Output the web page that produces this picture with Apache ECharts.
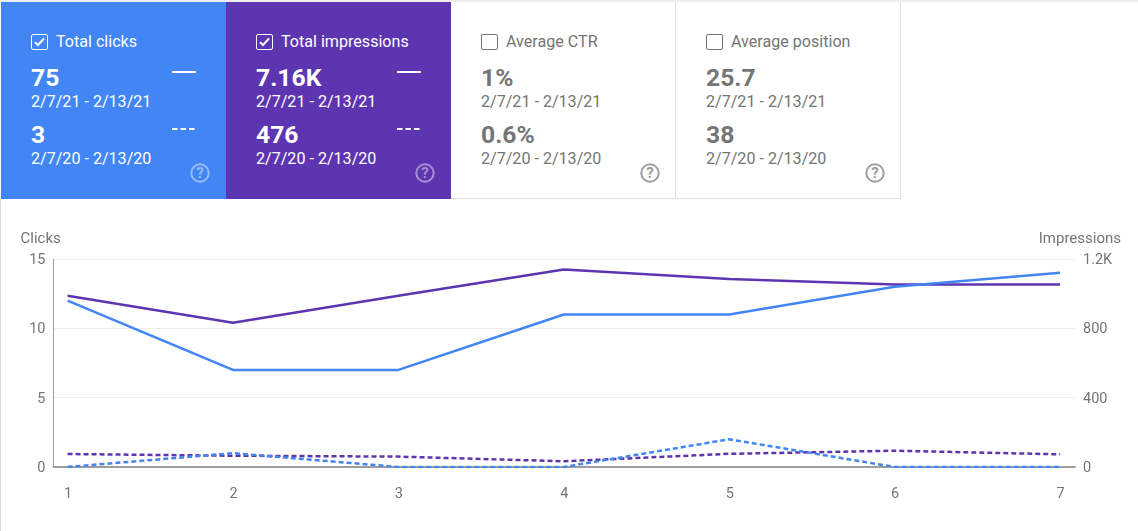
<!DOCTYPE html>
<html><head><meta charset="utf-8">
<script src="https://cdn.jsdelivr.net/npm/echarts@6/dist/echarts.min.js"></script>
<style>
html,body{margin:0;padding:0;background:#fff;width:1138px;height:531px;overflow:hidden;font-family:Roboto,sans-serif}
#topline{position:absolute;left:0;top:0;width:1138px;height:2px;background:#eeeeee}
#leftline{position:absolute;left:0;top:199px;width:1px;height:332px;background:#dadada}
#cards{position:absolute;left:1px;top:2px;height:197px;width:900px}
.card{position:absolute;top:0;width:225px;height:197px;box-sizing:border-box}
.card.off{color:#757575;border-right:1px solid #e0e0e0;border-bottom:1px solid #e0e0e0}
.card.on{color:#fff}
.card div,.card svg{position:absolute}
.t{left:55px;top:30px;font-size:16.1px;line-height:20px;white-space:nowrap}
.box{left:30px;top:32px;width:17px;height:16px;box-sizing:border-box;border-radius:2px;border:1px solid currentColor}
.n{left:30px;font-size:24.7px;font-weight:700;line-height:28px;white-space:nowrap}
.d{left:30px;font-size:16.1px;line-height:20px;white-space:nowrap}
.n1{top:62px}.d1{top:90px}.n2{top:119px}.d2{top:147px}
.mark{left:171px;width:24px;height:2px}
#chart{position:absolute;left:0;top:200px;width:1138px;height:331px}
</style></head><body>
<div id="topline"></div><div id="leftline"></div>
<div id="cards"></div>
<div id="chart"></div>
<script>
const xValues = [1,2,3,4,5,6,7];
const clicksCurrent = [12,7,7,11,11,13,14];
const clicksPrevious = [0,1,0,0,2,0,0];
const impressionsCurrent = [988,832,988,1140,1085,1053,1053];
const impressionsPrevious = [75,65,60,33,76,94,73];
const clicksTicks = [0,5,10,15];
const impressionsTicks = [0,400,800,1200];
const currentRange = '2/7/21 - 2/13/21';
const previousRange = '2/7/20 - 2/13/20';
const cardTitles = ['Total clicks','Total impressions','Average CTR','Average position'];
const cardCurrent = ['75','7.16K','1%','25.7'];
const cardPrevious = ['3','476','0.6%','38'];
const cardBackgrounds = ['#4285f4','#5e35b1',null,null];

const cards = document.getElementById('cards');
cardTitles.forEach((title,i)=>{
  const on = !!cardBackgrounds[i];
  const c = document.createElement('div');
  c.className = 'card ' + (on?'on':'off');
  c.style.left = (225*i)+'px';
  if(on) c.style.background = cardBackgrounds[i];
  const check = on ? '<svg style="left:32px;top:34px" width="13" height="12" viewBox="0 0 13 12"><path d="M2 6.2 L5 9 L11 2.5" fill="none" stroke="#fff" stroke-width="2"/></svg>' : '';
  const marks = on ?
    '<svg class="mark" style="left:171px;top:69px;width:24px;height:2px"><line x1="0" y1="1" x2="24" y2="1" stroke="#fff" stroke-width="2"/></svg>'+
    '<svg class="mark" style="left:171px;top:126px;width:24px;height:2px"><line x1="0" y1="1" x2="24" y2="1" stroke="#fff" stroke-width="2" stroke-dasharray="5.5 3"/></svg>' : '';
  const helpColor = on ? 'rgba(255,255,255,0.45)' : '#9e9e9e';
  const help = '<svg style="left:189px;top:161px" width="20" height="20" viewBox="0 0 20 20"><circle cx="10" cy="10" r="8.7" fill="none" stroke="'+helpColor+'" stroke-width="2"/><text x="10" y="15.2" text-anchor="middle" font-family="Roboto" font-weight="700" font-size="15" fill="'+helpColor+'">?</text></svg>';
  c.innerHTML = '<div class="box"></div>'+check+'<div class="t">'+title+'</div>'+
    '<div class="n n1">'+cardCurrent[i]+'</div><div class="d d1">'+currentRange+'</div>'+
    '<div class="n n2">'+cardPrevious[i]+'</div><div class="d d2">'+previousRange+'</div>'+marks+help;
  cards.appendChild(c);
});

const chart = echarts.init(document.getElementById('chart'));
const pair = (ys)=>xValues.map((x,i)=>[x,ys[i]]);
const axisText = {color:'#757575',fontFamily:'Roboto',fontSize:14.5};
const yCommon = (ticks)=>({
  type:'value',min:ticks[0],max:ticks[ticks.length-1],interval:ticks[1]-ticks[0],
  axisTick:{show:false},
  splitLine:{show:true,lineStyle:{color:'#eeeeee',width:1}},
  nameLocation:'end',nameGap:12
});
chart.setOption({
  animation:false,
  grid:{left:53.5,right:63,top:59,bottom:64,containLabel:false},
  xAxis:{type:'value',min:0.915,max:7.09,
    axisLine:{show:true,onZero:false,lineStyle:{color:'#9e9e9e',width:2}},
    axisTick:{show:false},splitLine:{show:false},
    axisLabel:{...axisText,margin:20,padding:[0,0,0,1],customValues:xValues,formatter:v=>String(v)}},
  yAxis:[
    {...yCommon(clicksTicks),position:'left',name:'Clicks',
     nameTextStyle:{...axisText,fontSize:15,align:'left',padding:[0,0,0,-33]},
     axisLine:{show:true,lineStyle:{color:'#9e9e9e',width:1}},
     axisLabel:{...axisText,margin:8,verticalAlign:'top',padding:[-6,0,0,0]}},
    {...yCommon(impressionsTicks),position:'right',name:'Impressions',
     nameTextStyle:{...axisText,fontSize:15,align:'right',padding:[0,-46,0,0]},
     axisLine:{show:false},
     axisLabel:{...axisText,margin:8,verticalAlign:'top',padding:[-6,0,0,0],formatter:v=>v>=1000?(v/1000)+'K':String(v)}}
  ],
  series:[
    {name:'Impressions 2021',type:'line',yAxisIndex:1,data:pair(impressionsCurrent),showSymbol:false,lineStyle:{color:'#5e35b1',width:2.5}},
    {name:'Clicks 2021',type:'line',yAxisIndex:0,data:pair(clicksCurrent),showSymbol:false,lineStyle:{color:'#4285f4',width:2.5}},
    {name:'Impressions 2020',type:'line',yAxisIndex:1,data:pair(impressionsPrevious),showSymbol:false,lineStyle:{color:'#5e35b1',width:2.5,type:[5,3]}},
    {name:'Clicks 2020',type:'line',yAxisIndex:0,data:pair(clicksPrevious),showSymbol:false,lineStyle:{color:'#4285f4',width:2.5,type:[5,3]}}
  ]
});
</script>
</body></html>
